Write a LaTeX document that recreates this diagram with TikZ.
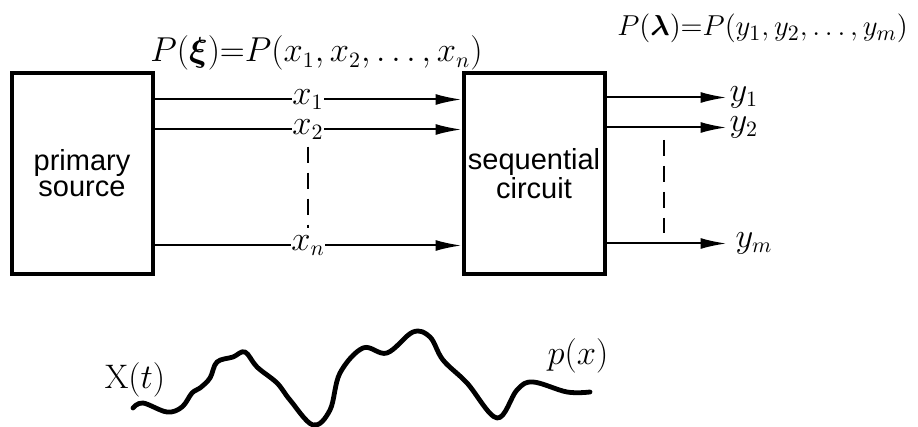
\documentclass[tikz,border=0pt]{standalone}
\usepackage{amsmath,amssymb,bm}
\usepackage{fontspec}
\setsansfont{Liberation Sans}
\usetikzlibrary{arrows.meta, positioning}

\begin{document}
\begin{tikzpicture}[
    x=0.5pt, y=-0.5pt,
    block/.style={draw, line width=2pt, minimum width=70.5pt, minimum height=100.5pt, align=center, inner sep=1pt, font=\sffamily\fontsize{14.5}{13}\selectfont},
    sig/.style={-{Latex[length=13pt, width=5.5pt]}, line width=1pt},
    lbl/.style={fill=white, inner sep=0pt, font=\fontsize{16}{16}\selectfont},
    outlbl/.style={inner sep=0pt, font=\fontsize{16}{16}\selectfont},
    prob/.style={anchor=base west, inner sep=0pt, font=\fontsize{15}{15}\selectfont},
    gap/.style={dashed, dash pattern=on 8pt off 5pt, line width=1pt},
    wave/.style={line width=2.4pt, line cap=round, line join=round}
]
    \useasboundingbox (0,0) rectangle (918,427);

    % blocks
    \node[block] (source) at (82,173.5) {primary\\source};
    \node[block, right=153.5pt of source] (circuit) {sequential\\circuit};

    % input lines
    \draw[sig] ([yshift=37pt]source.east) -- node[lbl] (lx1) {$x_1$} ([yshift=37pt]circuit.west);
    \draw[sig] ([yshift=22pt]source.east) -- node[lbl] (lx2) {$x_2$} ([yshift=22pt]circuit.west);
    \draw[sig] ([yshift=-36pt]source.east) -- node[lbl] (lxn) {$x_n$} ([yshift=-36pt]circuit.west);
    \draw[gap] ([yshift=-3pt]lx2.south) -- ([yshift=3pt]lxn.north);

    % output lines
    \draw[sig] ([yshift=38pt]circuit.east) -- ++(120,0) node[outlbl, right, xshift=1pt] (ly1) {$y_1$};
    \draw[sig] ([yshift=23pt]circuit.east) -- ++(120,0) node[outlbl, right, xshift=1pt] (ly2) {$y_2$};
    \draw[sig] ([yshift=-35pt]circuit.east) -- ++(120,0) node[outlbl, right, xshift=4pt] (lym) {$y_m$};
    \coordinate (dtop) at (664,140);
    \coordinate (dbot) at (664,233);
    \draw[gap] (dtop) -- (dbot);

    % probabilities
    \node[prob, font=\fontsize{16}{16}\selectfont] (pxi) at (150,62) {$P(\boldsymbol{\xi}){=}P(x_1{,}\,x_2{,}\ldots{,}\,x_n)$};
    \node[prob] (plam) at (617,36) {$P(\boldsymbol{\lambda}){=}P(y_1{,}\,y_2{,}\ldots{,}\,y_m)$};

    % random process
    \draw[wave] plot[smooth, tension=0.6] coordinates {
        (133,408) (143,403) (167,412) (182,407) (192,393) (200,388) (210,378)
        (217,362) (233,357) (245,352) (257,367) (277,383) (290,400) (313,425)
        (330,410) (340,373) (363,348) (387,353) (413,332) (430,337) (443,360)
        (467,383) (497,418) (517,390) (533,382) (567,392) (590,392)};
    \node[font=\fontsize{17}{17}\selectfont] (xt) at (135,380) {$\mathrm{X}(t)$};
    \node[font=\fontsize{17}{17}\selectfont] (px) at (578,356) {$p(x)$};
\end{tikzpicture}
\end{document}
